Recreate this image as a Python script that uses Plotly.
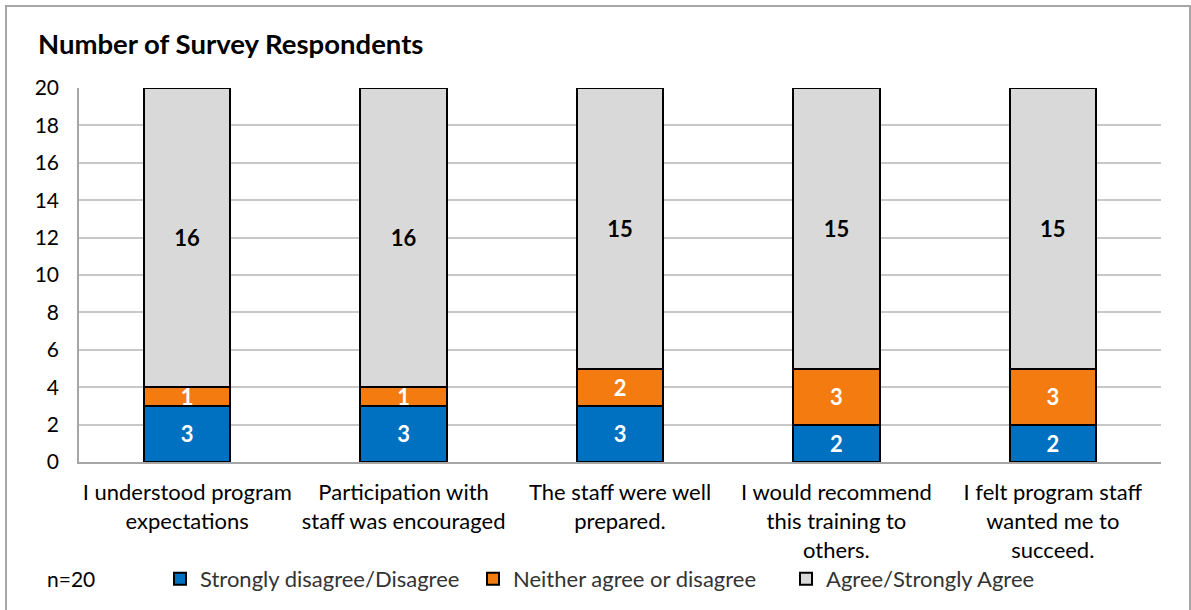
import plotly.graph_objects as go

categories = [
    "I understood program<br>expectations",
    "Participation with<br>staff was encouraged",
    "The staff were well<br>prepared.",
    "I would recommend<br>this training to<br>others.",
    "I felt program staff<br>wanted me to<br>succeed.",
]
disagree = [3, 3, 3, 2, 2]
neither = [1, 1, 2, 3, 3]
agree = [16, 16, 15, 15, 15]
series_names = ["Strongly disagree/Disagree", "Neither agree or disagree", "Agree/Strongly Agree"]
y_ticks = [0, 2, 4, 6, 8, 10, 12, 14, 16, 18, 20]

FONT = "Lato"
colors = ["#0070C0", "#F47B10", "#D9D9D9"]
label_colors = ["white", "white", "black"]

fig = go.Figure()
for name, vals, col, lc in zip(series_names, [disagree, neither, agree], colors, label_colors):
    fig.add_trace(go.Bar(
        x=categories, y=vals, name=name,
        marker=dict(color=col, line=dict(color="black", width=2)),
        width=0.4,
        text=vals, texttemplate="<b>%{text}</b>",
        textposition="inside", insidetextanchor="middle", textangle=0,
        textfont=dict(family=FONT, size=22, color=lc),
        hoverinfo="skip",
    ))

fig.update_layout(
    barmode="stack",
    width=1191, height=610,
    margin=dict(l=79, r=30, t=88, b=148, autoexpand=False),
    paper_bgcolor="white", plot_bgcolor="white",
    font=dict(family=FONT, size=20, color="black"),
    uniformtext=dict(minsize=22, mode="show"),
    title=dict(text="<b>Number of Survey Respondents</b>", xref="container", yref="container",
               x=38 / 1191, xanchor="left", y=1 - 44 / 610, yanchor="middle",
               font=dict(family=FONT, size=27.5, color="black")),
    legend=dict(orientation="h", x=160 / 1191, xref="container", y=1 - 579 / 610, yref="container",
                xanchor="left", yanchor="middle", font=dict(family=FONT, size=22, color="#333333"),
                entrywidth=268, traceorder="normal", bgcolor="rgba(0,0,0,0)"),
    showlegend=True,
)

fig.update_yaxes(range=[0, 20], tickvals=y_ticks, showgrid=True, gridcolor="#C8C8C8", gridwidth=1.5,
                 showline=True, linecolor="#A6A6A6", linewidth=1.5, ticks="", automargin=False,
                 tickfont=dict(family=FONT, size=21), ticklabelstandoff=14, zeroline=False)
fig.update_xaxes(showline=True, linecolor="#A6A6A6", linewidth=2, ticks="", automargin=False,
                 tickfont=dict(family=FONT, size=22), tickangle=0, ticklabelstandoff=10)

# outer chart border
fig.add_shape(type="rect", xref="paper", yref="paper",
              x0=(6 - 79) / 1082, x1=(1190 - 79) / 1082,
              y0=(462 - 640) / 374, y1=1 + (88 - 6) / 374,
              line=dict(color="#A6A6A6", width=2), fillcolor="rgba(0,0,0,0)", layer="below")

fig.add_annotation(text="n=20", xref="paper", yref="paper",
                   x=(45 - 79) / 1082, y=(462 - 578) / 374, xanchor="left", yanchor="middle",
                   showarrow=False, font=dict(family=FONT, size=21, color="black"))

fig.write_html("out.html")
